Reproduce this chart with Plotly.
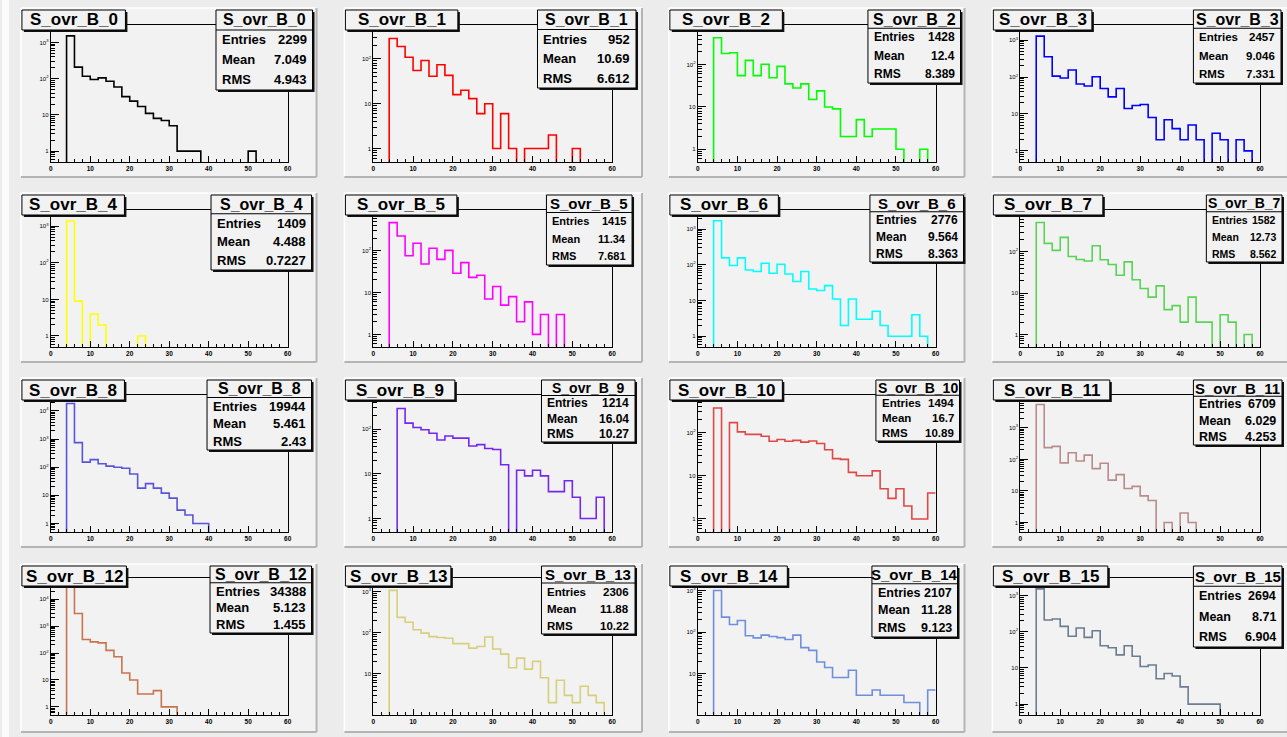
import math
import plotly.graph_objects as go

W, H = 1287, 737

# ---------------- data ----------------
bin_edges = list(range(0, 62, 2))  # 30 bins of width 2 from 0 to 60
hist_names = [f"S_ovr_B_{i}" for i in range(16)]

h0 = [0, 0, 1520, 209, 117, 95, 105, 85, 59, 32, 24, 17, 11, 8, 7, 5, 1, 1, 1, 0, 0, 0, 0, 0, 0, 1, 0, 0, 0, 0]
h1 = [0, 0, 286, 190, 109, 55, 92, 41, 74, 43, 16, 20, 13, 6, 10, 1, 6, 1, 0, 1, 1, 1, 2, 0, 0, 1, 0, 0, 0, 0]
h2 = [0, 0, 431, 183, 190, 55, 126, 55, 102, 49, 91, 35, 28, 35, 15, 24, 10, 9, 2, 2, 5, 2, 3, 3, 3, 1, 0, 0, 1, 0]
h3 = [0, 0, 1282, 354, 106, 94, 155, 65, 57, 102, 49, 29, 49, 14, 17, 18, 8, 2, 7, 4, 2, 5, 2, 0, 3, 2, 0, 2, 1, 0]
h4 = [0, 0, 1393, 9, 0, 4, 2, 0, 0, 0, 0, 1, 0, 0, 0, 0, 0, 0, 0, 0, 0, 0, 0, 0, 0, 0, 0, 0, 0, 0]
h5 = [0, 0, 469, 225, 76, 150, 48, 114, 62, 102, 29, 52, 23, 26, 7, 14, 5, 8, 2, 6, 1, 3, 0, 3, 0, 0, 0, 0, 0, 0]
h6 = [0, 0, 1700, 156, 95, 156, 71, 65, 110, 58, 103, 55, 34, 65, 21, 19, 26, 11, 2, 11, 3, 3, 5, 2, 1, 1, 1, 4, 1, 0]
h7 = [0, 0, 510, 159, 108, 223, 77, 65, 60, 140, 64, 49, 27, 57, 21, 13, 8, 15, 4, 5, 2, 8, 2, 2, 0, 3, 2, 0, 1, 0]
h8 = [0, 0, 18290, 743, 151, 185, 132, 109, 100, 92, 57, 18, 26, 18, 12, 8, 3, 2, 1, 1, 0, 0, 0, 0, 0, 0, 0, 0, 0, 0]
h9 = [0, 0, 0, 290, 136, 109, 97, 81, 57, 70, 63, 63, 42, 45, 37, 35, 16, 0, 12, 9, 12, 9, 4, 4, 7, 3, 1, 1, 3, 0]
h10 = [0, 0, 370, 0, 170, 104, 91, 91, 82, 63, 69, 63, 66, 60, 64, 56, 40, 25, 24, 12, 10, 10, 13, 5, 3, 5, 2, 1, 1, 4]
h11 = [0, 0, 5522, 236, 260, 78, 163, 89, 137, 51, 76, 22, 33, 12, 14, 7, 5, 0, 1, 0, 2, 1, 0, 0, 0, 0, 0, 0, 0, 0]
h12 = [0, 0, 30399, 2940, 316, 258, 237, 125, 73, 18, 10, 3, 3, 4, 1, 1, 0, 0, 0, 0, 0, 0, 0, 0, 0, 0, 0, 0, 0, 0]
h13 = [0, 0, 1060, 234, 179, 117, 97, 80, 76, 73, 54, 54, 42, 46, 78, 40, 30, 14, 24, 13, 20, 8, 2, 7, 3, 2, 5, 3, 2, 0]
h14 = [0, 0, 1000, 228, 151, 190, 81, 72, 84, 78, 73, 66, 84, 42, 36, 19, 14, 8, 8, 12, 3, 3, 4, 3, 3, 3, 2, 2, 0, 4]
h15 = [0, 0, 1530, 212, 225, 141, 75, 127, 70, 107, 41, 36, 23, 41, 21, 11, 12, 5, 7, 6, 3, 1, 1, 1, 1, 0, 0, 0, 0, 0]
hist_counts = [h0, h1, h2, h3, h4, h5, h6, h7, h8, h9, h10, h11, h12, h13, h14, h15]

stat_entries = ["2299", "952", "1428", "2457", "1409", "1415", "2776", "1582",
                "19944", "1214", "1494", "6709", "34388", "2306", "2107", "2694"]
stat_means = ["7.049", "10.69", "12.4", "9.046", "4.488", "11.34", "9.564", "12.73",
              "5.461", "16.04", "16.7", "6.029", "5.123", "11.88", "11.28", "8.71"]
stat_rms = ["4.943", "6.612", "8.389", "7.331", "0.7227", "7.681", "8.363", "8.562",
            "2.43", "10.27", "10.89", "4.253", "1.455", "10.22", "9.123", "6.904"]

x_tick_vals = [0, 10, 20, 30, 40, 50, 60]
y_tick_vals = [1, 10, 100, 1000, 10000, 100000]
y_tick_text = ["1", "10", "10<sup>2</sup>", "10<sup>3</sup>", "10<sup>4</sup>", "10<sup>5</sup>"]

# ---------------- style / layout ----------------
line_colors = ["#000000", "#ff0000", "#00ff00", "#0000ff", "#ffff00", "#ff00ff", "#00ffff", "#59d454",
               "#5954d9", "#7328f2", "#e04848", "#b88c8c", "#c8744e", "#d6d07c", "#6f8fde", "#6b7d8f"]

pad_left = [19, 344, 670, 995]
pad_right = [316, 643, 967, 1292]
pad_top = [8, 193, 378, 564]
pad_bottom = [177, 362, 547, 732]
frame_left = [49, 373, 699, 1023]
frame_right = [287, 613, 938, 1264]
frame_top = [25, 210, 395, 578]
frame_bottom = [162, 347, 532, 715]

title_w = [104, 113, 113, 99, 103, 112, 109, 110, 103, 110, 113, 117, 105, 106, 118, 115]
stat_x0 = [215, 538, 870, 1197, 210, 547, 872, 1210, 206, 542, 878, 1197, 209, 542, 874, 1197]
stat_x1 = [312, 637, 963, 1285, 311, 633, 966, 1286, 311, 636, 962, 1286, 311, 636, 960, 1286]
stat_h = [80, 78, 73, 73, 75, 70, 67, 67, 70, 62, 61, 65, 67, 68, 71, 81]
stat_fs = [13, 13, 12, 11.5, 13, 11, 12, 10.5, 13, 12, 11.5, 12.5, 13, 11.5, 12.5, 12.5]
stat_hfs = [16, 16, 16, 16, 16, 15, 15, 14, 16, 14, 14, 15, 16, 15, 15, 15]

PAD = "#f2f2f2"
FONT = "Liberation Sans, Arial, sans-serif"


def px(x):
    return x / W


def py(y):
    return 1 - y / H


fig = go.Figure()
shapes = []
annotations = []
layout_axes = {}

minor_y = []
for e in range(-1, 6):
    for m in range(2, 10):
        minor_y.append(m * 10 ** e)

# canvas left light strip
shapes.append(dict(type="rect", xref="paper", yref="paper", x0=0, x1=px(7), y0=0, y1=1,
                   fillcolor="#fbfbfb", line=dict(width=0), layer="below"))

for k in range(16):
    r, c = divmod(k, 4)
    cnt = hist_counts[k]
    pos = [v for v in cnt if v > 0]
    ymin = 0.5 * min(pos)
    ymax = 2.0 * max(pos)
    floor = ymin / 100.0
    yv = [v if v > 0 else floor for v in cnt]
    yv = yv + [yv[-1]]
    sfx = "" if k == 0 else str(k + 1)

    # labelled decades: only those clearly inside the frame
    tv = [v for v in y_tick_vals if ymin < v <= ymax / 1.2]
    tt = [y_tick_text[y_tick_vals.index(v)] for v in tv]

    fig.add_trace(go.Scatter(x=bin_edges, y=yv, mode="lines",
                             line=dict(shape="hv", color=line_colors[k], width=1.6),
                             xaxis="x" + sfx, yaxis="y" + sfx, showlegend=False,
                             hoverinfo="skip"))

    layout_axes["xaxis" + sfx] = dict(
        domain=[px(frame_left[c]), px(frame_right[c])], anchor="y" + sfx,
        range=[0, 60], tickvals=x_tick_vals, ticks="inside", ticklen=6, tickwidth=1,
        tickcolor="black", minor=dict(dtick=2, tick0=0, ticks="inside", ticklen=3, tickcolor="black"),
        showline=True, mirror=True, linecolor="black", linewidth=1,
        showgrid=False, zeroline=False, fixedrange=True,
        tickfont=dict(size=6.5, family=FONT, color="black", weight="bold"),
    )
    layout_axes["yaxis" + sfx] = dict(
        domain=[py(frame_bottom[r]), py(frame_top[r])], anchor="x" + sfx, type="log",
        range=[math.log10(ymin), math.log10(ymax)],
        tickmode="array", tickvals=tv, ticktext=tt,
        ticks="inside", ticklen=8, tickwidth=1, tickcolor="black",
        minor=dict(tickmode="array", tickvals=minor_y, ticks="inside", ticklen=4, tickcolor="black"),
        showline=True, mirror=True, linecolor="black", linewidth=1,
        showgrid=False, zeroline=False, fixedrange=True,
        tickfont=dict(size=6, family=FONT, color="black"),
    )

    # pad
    L, R, T, B = pad_left[c], pad_right[c], pad_top[r], pad_bottom[r]
    shapes.append(dict(type="rect", xref="paper", yref="paper", x0=px(L), x1=px(R), y0=py(B), y1=py(T),
                       fillcolor=PAD, line=dict(width=0), layer="below"))
    shapes.append(dict(type="line", xref="paper", yref="paper", x0=px(L), x1=px(R), y0=py(T), y1=py(T),
                       line=dict(color="#ffffff", width=1.5), layer="below"))
    shapes.append(dict(type="line", xref="paper", yref="paper", x0=px(L), x1=px(L), y0=py(B), y1=py(T),
                       line=dict(color="#ffffff", width=1.5), layer="below"))
    shapes.append(dict(type="line", xref="paper", yref="paper", x0=px(L), x1=px(R), y0=py(B), y1=py(B),
                       line=dict(color="#b4b4b4", width=2), layer="below"))
    shapes.append(dict(type="line", xref="paper", yref="paper", x0=px(R), x1=px(R), y0=py(B), y1=py(T),
                       line=dict(color="#b4b4b4", width=2), layer="below"))

    # title box
    tx0 = L + 1
    tx1 = tx0 + title_w[k]
    ty0 = T + 2
    ty1 = T + 22
    shapes.append(dict(type="rect", xref="paper", yref="paper", x0=px(tx0 + 2), x1=px(tx1 + 2),
                       y0=py(ty1 + 2), y1=py(ty0 + 2), fillcolor="#111111", line=dict(width=0), layer="above"))
    shapes.append(dict(type="rect", xref="paper", yref="paper", x0=px(tx0), x1=px(tx1),
                       y0=py(ty1), y1=py(ty0), fillcolor=PAD, line=dict(color="black", width=1), layer="above"))
    annotations.append(dict(xref="paper", yref="paper", x=px((tx0 + tx1) / 2), y=py((ty0 + ty1) / 2),
                            text="<b>%s</b>" % hist_names[k], showarrow=False,
                            font=dict(size=17, family=FONT, color="black"),
                            xanchor="center", yanchor="middle"))

    # stats box
    sx0, sx1 = stat_x0[k], stat_x1[k]
    sy0 = T + 2
    sy1 = sy0 + stat_h[k]
    rh = stat_h[k] / 4.0
    shapes.append(dict(type="rect", xref="paper", yref="paper", x0=px(sx0 + 2), x1=px(sx1 + 2),
                       y0=py(sy1 + 2), y1=py(sy0 + 2), fillcolor="#111111", line=dict(width=0), layer="above"))
    shapes.append(dict(type="rect", xref="paper", yref="paper", x0=px(sx0), x1=px(sx1),
                       y0=py(sy1), y1=py(sy0), fillcolor=PAD, line=dict(color="black", width=1), layer="above"))
    shapes.append(dict(type="line", xref="paper", yref="paper", x0=px(sx0), x1=px(sx1),
                       y0=py(sy0 + rh), y1=py(sy0 + rh), line=dict(color="black", width=1), layer="above"))
    annotations.append(dict(xref="paper", yref="paper", x=px((sx0 + sx1) / 2), y=py(sy0 + rh / 2),
                            text="<b>%s</b>" % hist_names[k], showarrow=False,
                            font=dict(size=stat_hfs[k], family=FONT, color="black"),
                            xanchor="center", yanchor="middle"))
    rows = [("Entries", stat_entries[k]), ("Mean", stat_means[k]), ("RMS", stat_rms[k])]
    for i, (lab, val) in enumerate(rows):
        yc = sy0 + rh * (i + 1.5)
        annotations.append(dict(xref="paper", yref="paper", x=px(sx0 + 4), y=py(yc),
                                text="<b>%s</b>" % lab, showarrow=False,
                                font=dict(size=stat_fs[k], family=FONT, color="black"),
                                xanchor="left", yanchor="middle"))
        annotations.append(dict(xref="paper", yref="paper", x=px(sx1 - 4), y=py(yc),
                                text="<b>%s</b>" % val, showarrow=False,
                                font=dict(size=stat_fs[k], family=FONT, color="black"),
                                xanchor="right", yanchor="middle"))

fig.update_layout(
    width=W, height=H, autosize=False,
    margin=dict(l=0, r=0, t=0, b=0, pad=0),
    paper_bgcolor="#ececec", plot_bgcolor=PAD,
    showlegend=False, shapes=shapes, annotations=annotations,
    **layout_axes,
)

fig.write_html("out.html", config={"displayModeBar": False})
